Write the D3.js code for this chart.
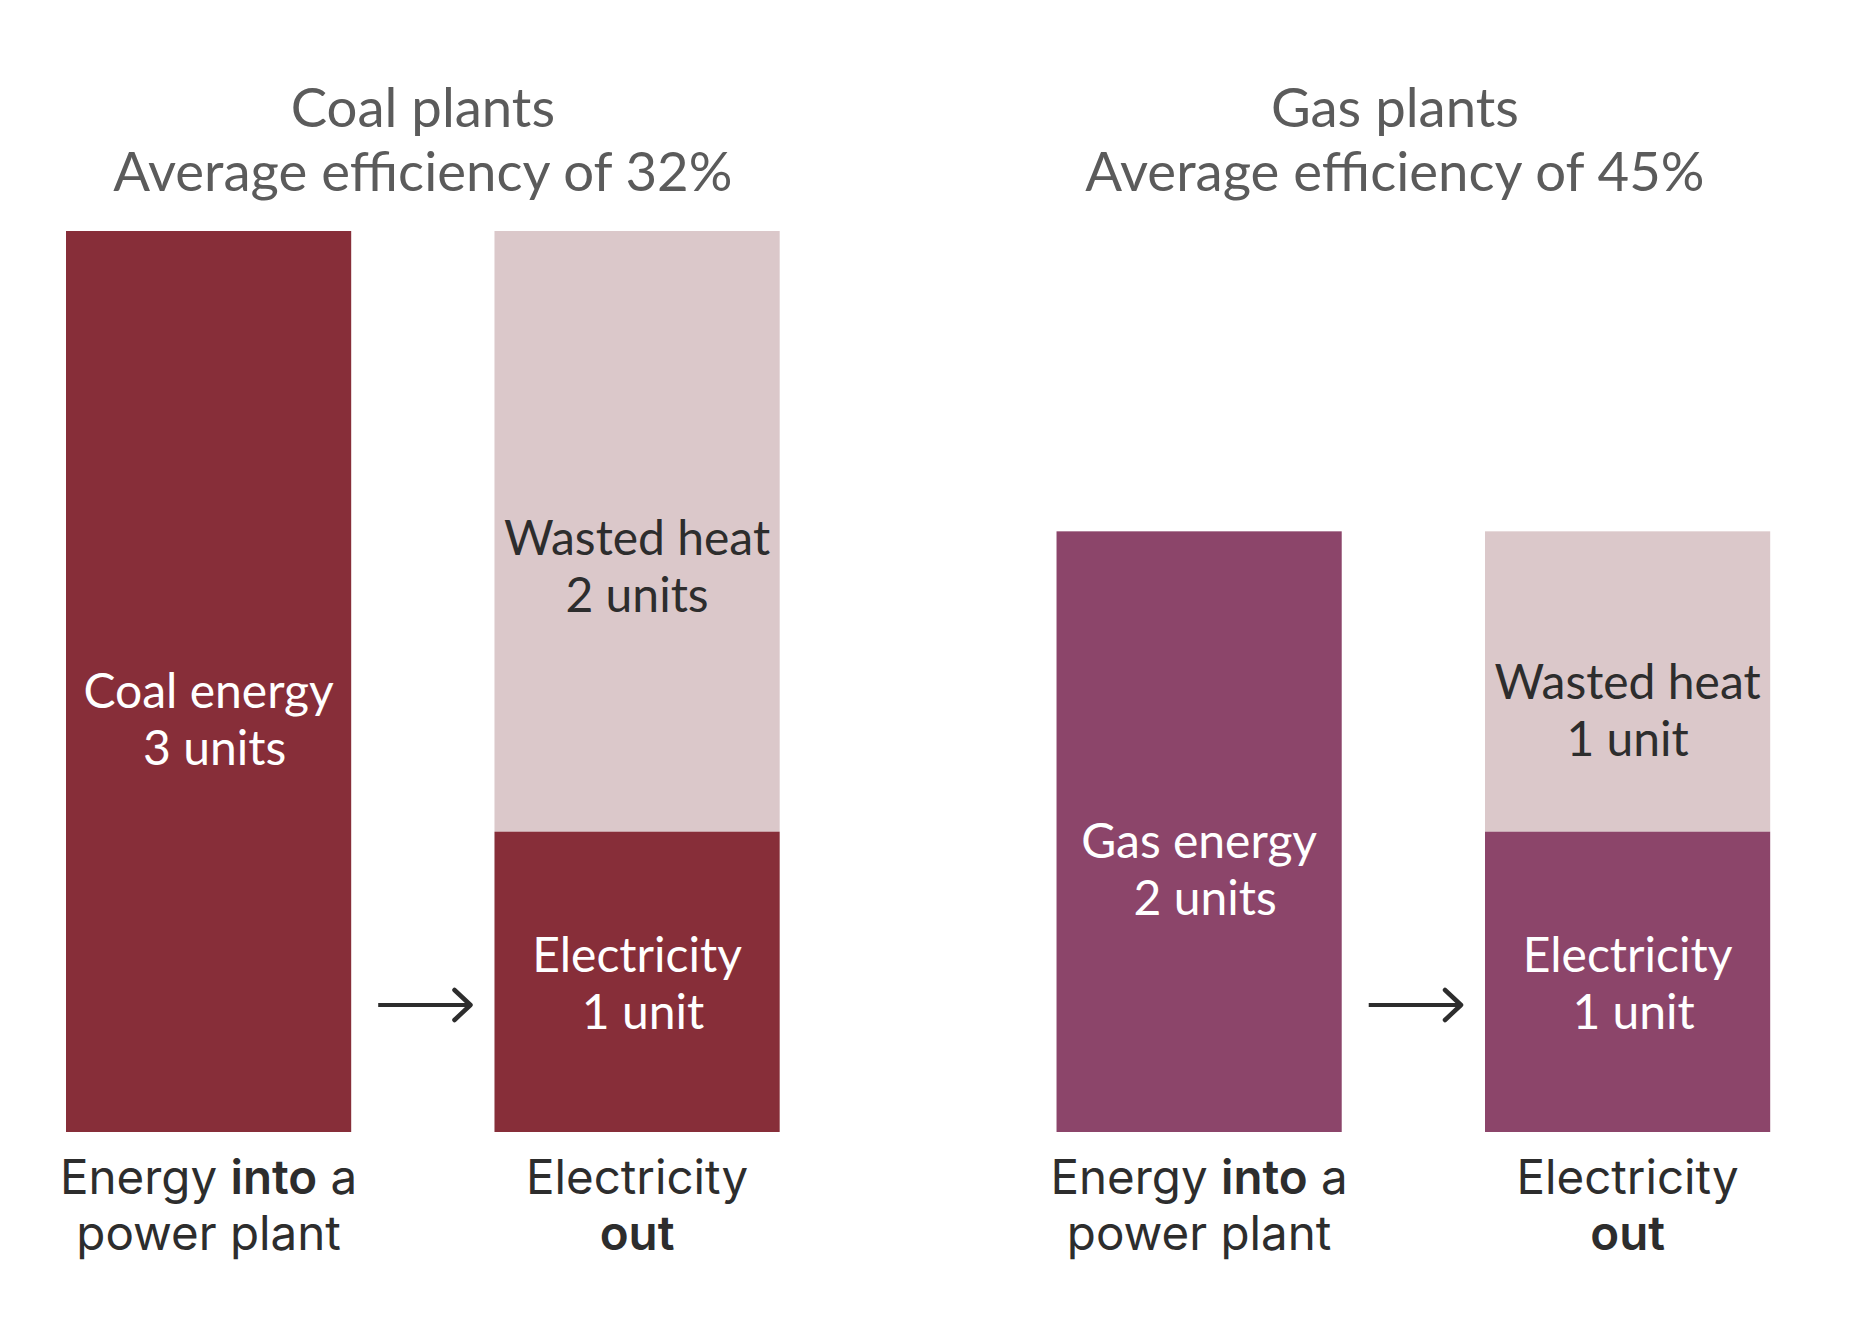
<!DOCTYPE html>
<html>
<head>
<meta charset="utf-8">
<script src="https://cdn.jsdelivr.net/npm/d3@7"></script>
<style>
  html, body { margin: 0; padding: 0; background: #ffffff; }
  svg { display: block; }
</style>
</head>
<body>
<svg id="chart" width="1860" height="1332"></svg>
<script>
// ---- Data ----
const plantKeys = ["coal", "gas"];
const plantTitles = ["Coal plants", "Gas plants"];
const efficiencyPct = [32, 45];
const inputNames = ["Coal energy", "Gas energy"];
const inputUnits = [3, 2];
const wastedUnits = [2, 1];
const electricityUnits = [1, 1];
const stageKeys = ["in", "out"];
const stageLabelLine1 = [["Energy ", "into", " a"], ["Electricity"]];
const stageLabelLine2 = [["power plant"], ["out"]];

// ---- Styles ----
const plantColors = ["#872E39", "#8C456A"];
const wasteColor = "#DBC8CA";
const titleColor = "#5B5B5B";
const darkText = "#2D2D2D";

const svg = d3.select("#chart");

const unitLabel = v => `${v} unit${v === 1 ? "" : "s"}`;

// Scales
const xOuter = d3.scaleBand().domain(plantKeys).range([66, 1770.2]).paddingInner(0.2795).paddingOuter(0);
const xInner = d3.scaleBand().domain(stageKeys).range([0, xOuter.bandwidth()]).paddingInner(0.3344).paddingOuter(0);
const y = d3.scaleLinear().domain([0, 3]).range([1132, 231]);

// label vertical offsets (px) relative to segment centre, and second-line dx
const inputLabelShift = [26, 26];
const wasteLabelShift = [24, 17];
const elecLabelShift = [-10, -10];
const secondLineDx = { input: 6, waste: 0, elec: 6 };
const titleShift = [0, -18.5];

const lineGap = 57;

function twoLine(g, cx, baseline, l1, l2, color, dx2) {
  const t = g.append("text")
    .attr("text-anchor", "middle")
    .attr("font-family", "Lato, 'Open Sans', sans-serif")
    .attr("font-size", 48)
    .attr("fill", color);
  t.append("tspan").attr("x", cx).attr("y", baseline).text(l1);
  t.append("tspan").attr("x", cx + dx2).attr("y", baseline + lineGap).text(l2);
}

plantKeys.forEach((k, i) => {
  const g = svg.append("g");
  const gx = xOuter(k);
  const xIn = gx + xInner("in");
  const xOut = gx + xInner("out");
  const bw = xInner.bandwidth();

  // Title
  const tcx = gx + xOuter.bandwidth() / 2 + titleShift[i];
  const title = g.append("text")
    .attr("text-anchor", "middle")
    .attr("font-family", "Lato, sans-serif")
    .attr("font-size", 54.5)
    .attr("fill", titleColor);
  title.append("tspan").attr("x", tcx).attr("y", 127).text(plantTitles[i]);
  title.append("tspan").attr("x", tcx).attr("y", 191).text(`Average efficiency of ${efficiencyPct[i]}%`);

  // Input bar
  g.append("rect")
    .attr("x", xIn).attr("width", bw)
    .attr("y", y(inputUnits[i])).attr("height", y(0) - y(inputUnits[i]))
    .attr("fill", plantColors[i]);

  // Output stacked bar: electricity (bottom) + wasted heat (top)
  const eTop = y(electricityUnits[i]);
  const wTop = y(electricityUnits[i] + wastedUnits[i]);
  g.append("rect")
    .attr("x", xOut).attr("width", bw)
    .attr("y", wTop).attr("height", eTop - wTop)
    .attr("fill", wasteColor);
  g.append("rect")
    .attr("x", xOut).attr("width", bw)
    .attr("y", eTop).attr("height", y(0) - eTop)
    .attr("fill", plantColors[i]);

  // In-bar labels
  const inCenter = (y(inputUnits[i]) + y(0)) / 2;
  twoLine(g, xIn + bw / 2, inCenter + inputLabelShift[i], inputNames[i], unitLabel(inputUnits[i]), "#ffffff", secondLineDx.input);
  const wCenter = (wTop + eTop) / 2;
  twoLine(g, xOut + bw / 2, wCenter + wasteLabelShift[i], "Wasted heat", unitLabel(wastedUnits[i]), darkText, secondLineDx.waste);
  const eCenter = (eTop + y(0)) / 2;
  twoLine(g, xOut + bw / 2, eCenter + elecLabelShift[i], "Electricity", unitLabel(electricityUnits[i]), "#ffffff", secondLineDx.elec);

  // Arrow
  const ax0 = xIn + bw + 27, ax1 = xOut - 24, ay = 1005;
  g.append("line")
    .attr("x1", ax0).attr("x2", ax1).attr("y1", ay).attr("y2", ay)
    .attr("stroke", darkText).attr("stroke-width", 4);
  g.append("path")
    .attr("d", `M${ax1 - 16},${ay - 15} L${ax1},${ay} L${ax1 - 16},${ay + 15}`)
    .attr("fill", "none").attr("stroke", darkText).attr("stroke-width", 4.5)
    .attr("stroke-linecap", "round").attr("stroke-linejoin", "round");

  // Bottom stage labels
  stageKeys.forEach((s, j) => {
    const cx = gx + xInner(s) + bw / 2;
    const t = g.append("text")
      .attr("text-anchor", "middle")
      .attr("font-family", "Inter, sans-serif")
      .attr("font-size", 47.5)
      .attr("fill", darkText);
    const l1 = t.append("tspan").attr("x", cx).attr("y", 1194);
    stageLabelLine1[j].forEach(part => {
      l1.append("tspan").attr("font-weight", (part === "into") ? 600 : 400).text(part);
    });
    const l2 = t.append("tspan").attr("x", cx).attr("y", 1250);
    stageLabelLine2[j].forEach(part => {
      l2.append("tspan").attr("font-weight", (part === "out") ? 600 : 400).text(part);
    });
  });
});
</script>
</body>
</html>
